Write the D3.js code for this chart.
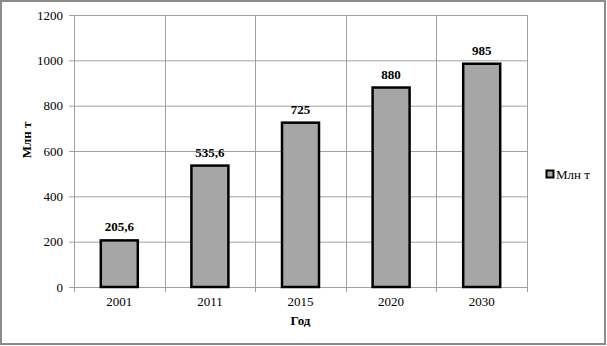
<!DOCTYPE html>
<html>
<head>
<meta charset="utf-8">
<script src="https://cdn.jsdelivr.net/npm/d3@7"></script>
<style>
  body { margin: 0; background: #fff; }
  svg text { font-family: "Times New Roman", "Liberation Serif", serif; }
</style>
</head>
<body>
<div id="chart"></div>
<script>
// data
const years = ["2001", "2011", "2015", "2020", "2030"];
const values = [205.6, 535.6, 725, 880, 985];
const labels = ["205,6", "535,6", "725", "880", "985"];
const yTicks = [0, 200, 400, 600, 800, 1000, 1200];
const seriesName = "Млн т";

const W = 607, H = 346;
const serif = '"Times New Roman", "Liberation Serif", serif';
const margin = {top: 15, right: 80, bottom: 59, left: 74};
const width = 527 - margin.left, height = 287 - margin.top;

const svg = d3.select("#chart").append("svg")
    .attr("width", W).attr("height", H)
    .attr("font-family", serif);

// outer frame
svg.append("rect")
    .attr("x", 1).attr("y", 1)
    .attr("width", W - 3).attr("height", H - 3)
    .attr("fill", "#fff").attr("stroke", "#8c8c8c").attr("stroke-width", 2);

const g = svg.append("g").attr("transform", `translate(${margin.left},${margin.top})`);

const x = d3.scaleBand().domain(years).range([0, width]).paddingInner(0).paddingOuter(0);
const y = d3.scaleLinear().domain([0, 1200]).range([height, 0]);

// horizontal gridlines
g.selectAll(".hgrid").data(yTicks).join("line")
    .attr("x1", 0).attr("x2", width)
    .attr("y1", d => y(d) + 0.5).attr("y2", d => y(d) + 0.5)
    .attr("stroke", "#a0a0a0").attr("stroke-width", 1);

// vertical gridlines at category boundaries
const bounds = years.map(d => x(d)).concat([width]);
g.selectAll(".vgrid").data(bounds).join("line")
    .attr("x1", d => Math.round(d) + 0.5).attr("x2", d => Math.round(d) + 0.5)
    .attr("y1", 0).attr("y2", height + 5)
    .attr("stroke", "#a0a0a0").attr("stroke-width", 1);

// y axis
const yAxis = g.append("g")
    .call(d3.axisLeft(y).tickValues(yTicks).tickFormat(d3.format("d")).tickSize(5).tickPadding(6))
    .attr("font-family", serif).attr("font-size", 13);
yAxis.select(".domain").attr("stroke", "#a0a0a0");
yAxis.selectAll(".tick line").attr("stroke", "#a0a0a0");
yAxis.selectAll("text").attr("fill", "#000");

// x axis labels
g.selectAll(".xlab").data(years).join("text")
    .attr("x", d => x(d) + x.bandwidth() / 2)
    .attr("y", height + 19)
    .attr("text-anchor", "middle")
    .attr("font-size", 13)
    .text(d => d);

// bars
const barW = 37;
g.selectAll(".bar").data(values).join("rect")
    .attr("x", (d, i) => x(years[i]) + x.bandwidth() / 2 - barW / 2)
    .attr("y", d => y(d))
    .attr("width", barW)
    .attr("height", d => height - y(d))
    .attr("fill", "#a6a6a6")
    .attr("stroke", "#000").attr("stroke-width", 2.5);

// value labels
g.selectAll(".val").data(values).join("text")
    .attr("x", (d, i) => x(years[i]) + x.bandwidth() / 2)
    .attr("y", d => y(d) - 9)
    .attr("text-anchor", "middle")
    .attr("font-size", 13).attr("font-weight", "bold")
    .text((d, i) => labels[i]);

// axis titles
svg.append("text")
    .attr("transform", "translate(31,140) rotate(-90)")
    .attr("text-anchor", "middle")
    .attr("font-size", 13).attr("font-weight", "bold")
    .text(seriesName);

svg.append("text")
    .attr("x", margin.left + width / 2)
    .attr("y", 325)
    .attr("text-anchor", "middle")
    .attr("font-size", 13).attr("font-weight", "bold")
    .text("Год");

// legend
const leg = svg.append("g").attr("transform", "translate(550,174)");
leg.append("rect")
    .attr("x", -3.5).attr("y", -3.5).attr("width", 7).attr("height", 7)
    .attr("fill", "#a6a6a6").attr("stroke", "#000").attr("stroke-width", 2);
leg.append("text")
    .attr("x", 6).attr("y", 4.5)
    .attr("font-size", 13)
    .text(seriesName);
</script>
</body>
</html>
